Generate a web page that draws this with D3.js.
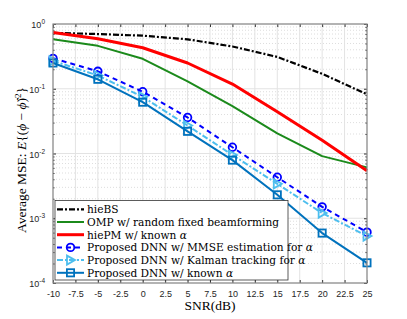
<!DOCTYPE html>
<html><head><meta charset="utf-8">
<script src="https://cdn.jsdelivr.net/npm/d3@7"></script>
<style>body{margin:0;background:#fff}svg{display:block}</style>
</head><body>
<script>
const snr = [-10,-5,0,5,10,15,20,25];
const hieBS   = [0.73,0.70,0.66,0.58,0.45,0.31,0.17,0.082];
const omp     = [0.58,0.46,0.29,0.13,0.054,0.0205,0.0091,0.0061];
const hiePM   = [0.74,0.59,0.43,0.25,0.118,0.044,0.016,0.0054];
const dnnMMSE = [0.295,0.186,0.09,0.036,0.0125,0.0043,0.0015,0.00061];
const dnnKal  = [0.27,0.16,0.075,0.027,0.0095,0.0034,0.0012,0.00053];
const dnnKnown= [0.25,0.14,0.062,0.022,0.0079,0.0023,0.00059,0.000205];
const xTicks = [-10,-7.5,-5,-2.5,0,2.5,5,7.5,10,12.5,15,17.5,20,22.5,25];
const xTickLabels = ["-10","-7.5","-5","-2.5","0","2.5","5","7.5","10","12.5","15","17.5","20","22.5","25"];
const yDecades = [1e-4,1e-3,1e-2,1e-1,1];
const yExps = ["-4","-3","-2","-1","0"];
const legendNames = ["hieBS","OMP w/ random fixed beamforming","hiePM w/ known α","Proposed DNN w/ MMSE estimation for α","Proposed DNN w/ Kalman tracking for α","Proposed DNN w/ known α"];

const series = [
  {v:hieBS, c:"#000000", w:2.2, dash:"6,2,2,2", m:null},
  {v:omp, c:"#1b8a1b", w:2, dash:null, m:null},
  {v:hiePM, c:"#ff0000", w:3, dash:null, m:null},
  {v:dnnMMSE, c:"#0000ff", w:2, dash:"5,4", m:"circle"},
  {v:dnnKal, c:"#4dbeee", w:2, dash:"6,2,2,2", m:"tri"},
  {v:dnnKnown, c:"#0072bd", w:2, dash:null, m:"square"}
];

const W=407,H=319, L=53, R=367, T=24, B=283;
const svg = d3.select("body").append("svg").attr("width",W).attr("height",H);
const x = d3.scaleLinear().domain([-10,25]).range([L,R]);
const y = d3.scaleLog().domain([1e-4,1]).range([B,T]);
const sans = "Liberation Sans, Arial, sans-serif";
const serif = "Liberation Serif, Times New Roman, serif";
const lserif = "DejaVu Serif, serif";

// grid
const g = svg.append("g");
const minors=[];
for(let e=-4;e<0;e++) for(let k=2;k<=9;k++) minors.push(k*Math.pow(10,e));
g.selectAll(".ym").data(minors).join("line").attr("x1",L).attr("x2",R)
  .attr("y1",d=>y(d)).attr("y2",d=>y(d)).attr("stroke","#d4d4d4").attr("stroke-width",0.8).attr("stroke-dasharray","1,2");
g.selectAll(".yg").data(yDecades).join("line").attr("x1",L).attr("x2",R)
  .attr("y1",d=>y(d)).attr("y2",d=>y(d)).attr("stroke","#e3e3e3").attr("stroke-width",1);
g.selectAll(".xg").data(xTicks).join("line").attr("y1",T).attr("y2",B)
  .attr("x1",d=>x(d)).attr("x2",d=>x(d)).attr("stroke","#e3e3e3").attr("stroke-width",1);

// axes with inward ticks
const axB = d3.axisBottom(x).tickValues(xTicks).tickFormat((d,i)=>xTickLabels[i]).tickSizeInner(-3).tickSizeOuter(0).tickPadding(8);
const axT = d3.axisTop(x).tickValues(xTicks).tickFormat("").tickSizeInner(-3).tickSizeOuter(0);
const axL = d3.axisLeft(y).tickValues(yDecades).tickFormat("").tickSizeInner(-3).tickSizeOuter(0);
const axR = d3.axisRight(y).tickValues(yDecades).tickFormat("").tickSizeInner(-3).tickSizeOuter(0);
const axLm = d3.axisLeft(y).tickValues(minors).tickFormat("").tickSizeInner(-1.5).tickSizeOuter(0);
const axRm = d3.axisRight(y).tickValues(minors).tickFormat("").tickSizeInner(-1.5).tickSizeOuter(0);
function style(sel){sel.selectAll("path").remove();sel.selectAll("line").attr("stroke","#333");sel.selectAll("text").attr("fill","#262626").style("font-family",sans).style("font-size","9px");}
svg.append("g").attr("transform",`translate(0,${B})`).call(axB).call(style);
svg.append("g").attr("transform",`translate(0,${T})`).call(axT).call(style);
svg.append("g").attr("transform",`translate(${L},0)`).call(axL).call(style);
svg.append("g").attr("transform",`translate(${R},0)`).call(axR).call(style);
svg.append("g").attr("transform",`translate(${L},0)`).call(axLm).call(style);
svg.append("g").attr("transform",`translate(${R},0)`).call(axRm).call(style);

// y tick labels
const yl = svg.append("g");
yDecades.forEach((d,i)=>{
  const t = yl.append("text").attr("x",L-8).attr("y",y(d)+4).attr("text-anchor","end")
    .attr("fill","#262626").style("font-family",sans).style("font-size","9px");
  t.append("tspan").text("10");
  t.append("tspan").attr("dy",-4).style("font-size","6.5px").text(yExps[i]);
});

// series
const line = d3.line().x((d,i)=>x(snr[i])).y(d=>y(d));
const sg = svg.append("g");
function marker(sel, s, cx, cy){
  if(s.m==="circle") sel.append("circle").attr("cx",cx).attr("cy",cy).attr("r",3.8).attr("fill","none").attr("stroke",s.c).attr("stroke-width",1.8);
  else if(s.m==="tri") sel.append("path").attr("d",`M${cx-3.5},${cy-4.5}L${cx+4.5},${cy}L${cx-3.5},${cy+4.5}Z`).attr("fill","none").attr("stroke",s.c).attr("stroke-width",1.8);
  else if(s.m==="square") sel.append("rect").attr("x",cx-3.6).attr("y",cy-3.6).attr("width",7.2).attr("height",7.2).attr("fill","none").attr("stroke",s.c).attr("stroke-width",1.8);
}
series.forEach(s=>{
  sg.append("path").datum(s.v).attr("d",line).attr("fill","none").attr("stroke",s.c)
    .attr("stroke-width",s.w).attr("stroke-dasharray",s.dash).attr("stroke-linejoin","round");
  if(s.m) s.v.forEach((d,i)=>marker(sg,s,x(snr[i]),y(d)));
});

// frame
svg.append("rect").attr("x",L).attr("y",T).attr("width",R-L).attr("height",B-T).attr("fill","none").attr("stroke","#8a8a8a").attr("stroke-width",1.2);

// legend
const lg = svg.append("g");
lg.append("rect").attr("x",55).attr("y",200.5).attr("width",233).attr("height",79.5).attr("fill","#fff").attr("stroke","#333").attr("stroke-width",0.8);
legendNames.forEach((n,i)=>{
  const s=series[i], yy=209.3+i*12.7;
  lg.append("line").attr("x1",57).attr("x2",84).attr("y1",yy).attr("y2",yy).attr("stroke",s.c).attr("stroke-width",s.w).attr("stroke-dasharray",s.dash);
  if(s.m) marker(lg,s,70.5,yy);
  const t = lg.append("text").attr("x",87).attr("y",yy+3.8).style("font-family",lserif).style("font-size","10.6px").attr("fill","#000");
  if(n.endsWith("α")){t.append("tspan").text(n.slice(0,-1)); t.append("tspan").style("font-style","italic").text("α");}
  else t.text(n);
});

// axis labels
svg.append("text").attr("x",(L+R)/2).attr("y",310).attr("text-anchor","middle")
  .style("font-family",serif).style("font-size","13.5px").text("SNR(dB)");
const ylab = svg.append("text").attr("transform",`translate(26,160) rotate(-90)`).attr("text-anchor","middle")
  .style("font-family",serif).style("font-size","13.5px");
ylab.append("tspan").text("Average MSE: ");
ylab.append("tspan").style("font-style","italic").text("E");
ylab.append("tspan").text("{(");
ylab.append("tspan").style("font-style","italic").text("ϕ");
ylab.append("tspan").text(" − ");
ylab.append("tspan").style("font-style","italic").text("ϕ̂");
ylab.append("tspan").text(")");
ylab.append("tspan").attr("dy",-5).style("font-size","9px").text("2");
ylab.append("tspan").attr("dy",5).text("}");
</script>
</body></html>
